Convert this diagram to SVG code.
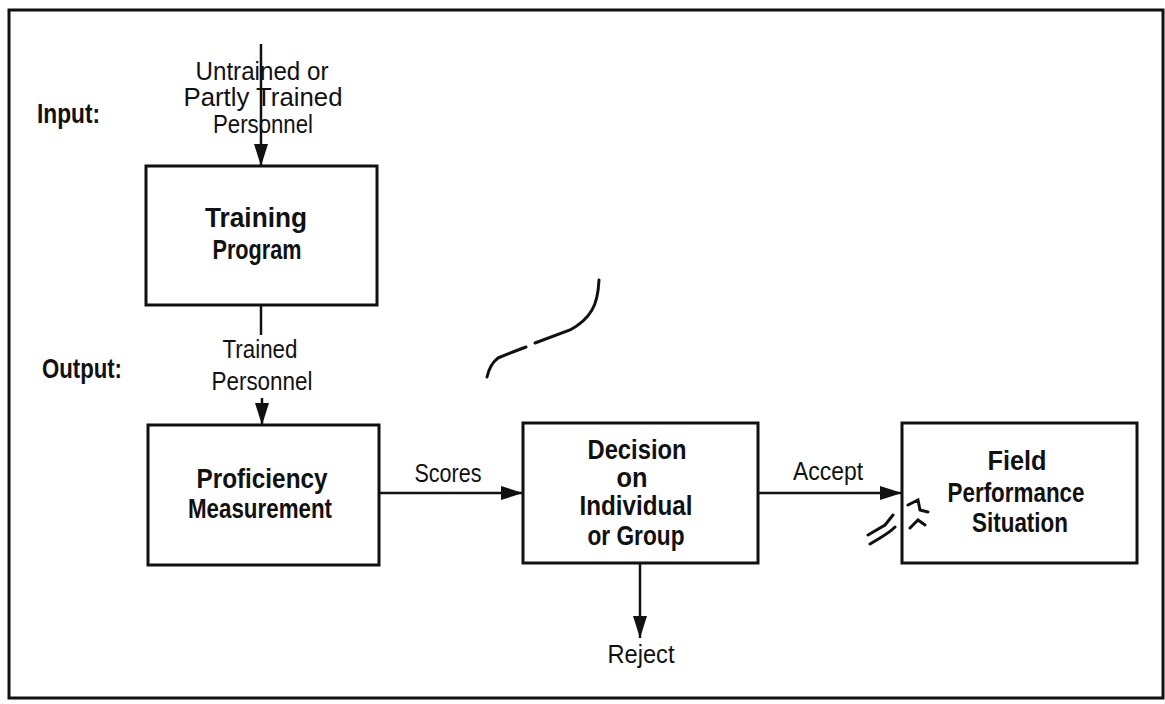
<svg xmlns="http://www.w3.org/2000/svg" width="1165" height="704" viewBox="0 0 1165 704">
  <style>
    .frame { fill: none; stroke: #111; stroke-width: 3; }
    .box { fill: #fff; stroke: #111; stroke-width: 3; }
    .edge { fill: none; stroke: #111; stroke-width: 2.5; }
    .t { font-family: "Liberation Sans", Arial, sans-serif; font-size: 25px; fill: #111; text-anchor: middle; }
    .b { font-family: "Liberation Sans", Arial, sans-serif; font-size: 28px; font-weight: bold; fill: #111; text-anchor: middle; }
    .lbl { font-family: "Liberation Sans", Arial, sans-serif; font-size: 28px; font-weight: bold; fill: #111; }
    .mark { fill: none; stroke: #111; stroke-width: 3; stroke-linecap: round; }
  </style>
  <defs>
    <marker id="arrow" markerUnits="userSpaceOnUse" markerWidth="24" markerHeight="16" refX="22" refY="8" orient="auto">
      <path d="M0,1 L22,8 L0,15 Z" fill="#111"/>
    </marker>
  </defs>
  <rect width="1165" height="704" fill="#fff"/>
  <rect class="frame" x="9" y="10" width="1154" height="688"/>

  <text class="lbl" x="37" y="123" textLength="63" lengthAdjust="spacingAndGlyphs">Input:</text>
  <text class="lbl" x="42" y="378" textLength="80" lengthAdjust="spacingAndGlyphs">Output:</text>

  <g id="connectors">
    <line class="edge" x1="261" y1="44" x2="261" y2="166" marker-end="url(#arrow)"/>
    <line class="edge" x1="261" y1="305" x2="261" y2="335"/>
    <line class="edge" x1="262" y1="398" x2="262" y2="425" marker-end="url(#arrow)"/>
    <line class="edge" x1="379" y1="493" x2="523" y2="493" marker-end="url(#arrow)"/>
    <line class="edge" x1="758" y1="493" x2="902" y2="493" marker-end="url(#arrow)"/>
    <line class="edge" x1="640" y1="563" x2="640" y2="638" marker-end="url(#arrow)"/>
    <text class="t" x="262" y="80" textLength="133" lengthAdjust="spacingAndGlyphs">Untrained  or</text>
    <text class="t" x="263" y="106" textLength="159" lengthAdjust="spacingAndGlyphs">Partly  Trained</text>
    <text class="t" x="263" y="133" textLength="100" lengthAdjust="spacingAndGlyphs">Personnel</text>
    <text class="t" x="260" y="358" textLength="75" lengthAdjust="spacingAndGlyphs">Trained</text>
    <text class="t" x="262" y="390" textLength="101" lengthAdjust="spacingAndGlyphs">Personnel</text>
    <text class="t" x="448" y="482" textLength="67" lengthAdjust="spacingAndGlyphs">Scores</text>
    <text class="t" x="828" y="480" textLength="70" lengthAdjust="spacingAndGlyphs">Accept</text>
    <text class="t" x="641" y="663" textLength="67" lengthAdjust="spacingAndGlyphs">Reject</text>
  </g>

  <g id="training">
    <rect class="box" x="146" y="166" width="231" height="139"/>
    <text class="b" x="256" y="227" textLength="102" lengthAdjust="spacingAndGlyphs">Training</text>
    <text class="b" x="257" y="259" textLength="89" lengthAdjust="spacingAndGlyphs">Program</text>
  </g>

  <g id="proficiency">
    <rect class="box" x="148" y="425" width="231" height="140"/>
    <text class="b" x="262" y="488" textLength="131" lengthAdjust="spacingAndGlyphs">Proficiency</text>
    <text class="b" x="260" y="518" textLength="144" lengthAdjust="spacingAndGlyphs">Measurement</text>
  </g>

  <g id="decision">
    <rect class="box" x="523" y="423" width="235" height="140"/>
    <text class="b" x="637" y="459" textLength="99" lengthAdjust="spacingAndGlyphs">Decision</text>
    <text class="b" x="632" y="487" textLength="31" lengthAdjust="spacingAndGlyphs">on</text>
    <text class="b" x="636" y="515" textLength="113" lengthAdjust="spacingAndGlyphs">Individual</text>
    <text class="b" x="636" y="545" textLength="97" lengthAdjust="spacingAndGlyphs">or Group</text>
  </g>

  <g id="field">
    <rect class="box" x="902" y="423" width="235" height="140"/>
    <text class="b" x="1017" y="470" textLength="59" lengthAdjust="spacingAndGlyphs">Field</text>
    <text class="b" x="1016" y="502" textLength="137" lengthAdjust="spacingAndGlyphs">Performance</text>
    <text class="b" x="1020" y="532" textLength="96" lengthAdjust="spacingAndGlyphs">Situation</text>
  </g>

  <g id="marks">
    <path class="mark" d="M599,280 Q598,300 592,310 Q585,322 570,330 L535,343"/>
    <path class="mark" d="M526,347 Q510,353 498,358 Q490,364 487,377" stroke-width="2"/>
    <path class="mark" d="M870,544 L880,538 Q890,532 895,527 M868,535 L885,525 L893,515 M908,505 L918,500 L920,510 L928,512 M910,528 L918,520 L925,525" stroke-width="2.5"/>
  </g>
</svg>
